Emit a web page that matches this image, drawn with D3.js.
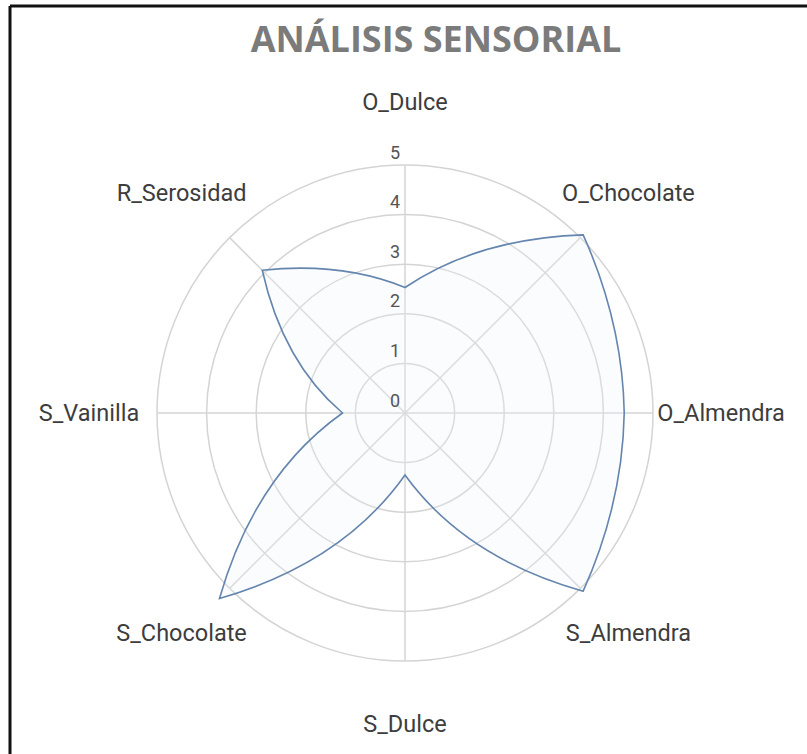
<!DOCTYPE html>
<html>
<head>
<meta charset="utf-8">
<script src="https://cdn.jsdelivr.net/npm/d3@7"></script>
<style>
  html, body { margin: 0; padding: 0; background: #ffffff; }
  svg { display: block; }
</style>
</head>
<body>
<svg id="chart" width="807" height="754"></svg>
<script>
// ---- Data ----
const categories = ["O_Dulce", "O_Chocolate", "O_Almendra", "S_Almendra", "S_Dulce", "S_Chocolate", "S_Vainilla", "R_Serosidad"];
const values = [2.53, 5.08, 4.42, 5.08, 1.25, 5.29, 1.26, 4.07];
const tickLabels = [0, 1, 2, 3, 4, 5];
const title = "ANÁLISIS SENSORIAL";

// ---- Layout ----
const W = 807, H = 754;
const cx = 405, cy = 413;
const R = 248;
const svg = d3.select("#chart");

// frame lines (screenshot border)
svg.append("line").attr("x1", 10).attr("y1", 6).attr("x2", W).attr("y2", 6)
  .attr("stroke", "#111").attr("stroke-width", 3);
svg.append("line").attr("x1", 10).attr("y1", 6).attr("x2", 10).attr("y2", H)
  .attr("stroke", "#111").attr("stroke-width", 3);

const r = d3.scaleLinear().domain([0, 5]).range([0, R]);
const step = 2 * Math.PI / categories.length;
const ang = i => i * step;
const px = (a, rad) => rad * Math.sin(a);
const py = (a, rad) => -rad * Math.cos(a);

const g = svg.append("g").attr("transform", `translate(${cx},${cy})`);

// grid circles
g.selectAll("circle.grid").data(tickLabels.filter(d => d > 0)).enter()
  .append("circle").attr("class", "grid")
  .attr("r", d => r(d))
  .attr("fill", "none").attr("stroke", "#d4d4d4").attr("stroke-width", 1.5);

// spokes
g.selectAll("line.spoke").data(categories).enter()
  .append("line").attr("class", "spoke")
  .attr("x1", 0).attr("y1", 0)
  .attr("x2", (d, i) => px(ang(i), r(5)))
  .attr("y2", (d, i) => py(ang(i), r(5)))
  .attr("stroke", "#d4d4d4").attr("stroke-width", 1.5);

// series: quadratic curves between points, control point at mid-angle / mid-value
const n = categories.length;
const p = d3.path();
p.moveTo(px(ang(0), r(values[0])), py(ang(0), r(values[0])));
for (let i = 0; i < n; i++) {
  const j = (i + 1) % n;
  const am = ang(i) + step / 2;
  const vm = (values[i] + values[j]) / 2;
  p.quadraticCurveTo(px(am, r(vm)), py(am, r(vm)), px(ang(j), r(values[j])), py(ang(j), r(values[j])));
}
p.closePath();
g.append("path").attr("d", p.toString())
  .attr("fill", "#eaf3fc").attr("fill-opacity", 0.25)
  .attr("stroke", "#6485ad").attr("stroke-width", 1.6).attr("stroke-linejoin", "miter");

// tick labels
g.selectAll("text.tick").data(tickLabels).enter()
  .append("text").attr("class", "tick")
  .attr("x", -10).attr("y", d => -r(d) - 13)
  .attr("text-anchor", "middle").attr("dominant-baseline", "central")
  .attr("font-family", "Roboto, sans-serif").attr("font-size", 18)
  .attr("fill", "#555").text(d => d);

// category labels
g.selectAll("text.cat").data(categories).enter()
  .append("text").attr("class", "cat")
  .attr("x", (d, i) => px(ang(i), 316))
  .attr("y", (d, i) => py(ang(i), 311))
  .attr("text-anchor", "middle").attr("dominant-baseline", "central")
  .attr("font-family", "Roboto, sans-serif").attr("font-size", 23.5)
  .attr("fill", "#3d3d3d").text(d => d);

// title
svg.append("text").attr("x", 436).attr("y", 38)
  .attr("text-anchor", "middle").attr("dominant-baseline", "central")
  .attr("font-family", "'Open Sans', sans-serif").attr("font-weight", 700)
  .attr("font-size", 36).attr("fill", "#7b7b7b").text(title);
</script>
</body>
</html>
